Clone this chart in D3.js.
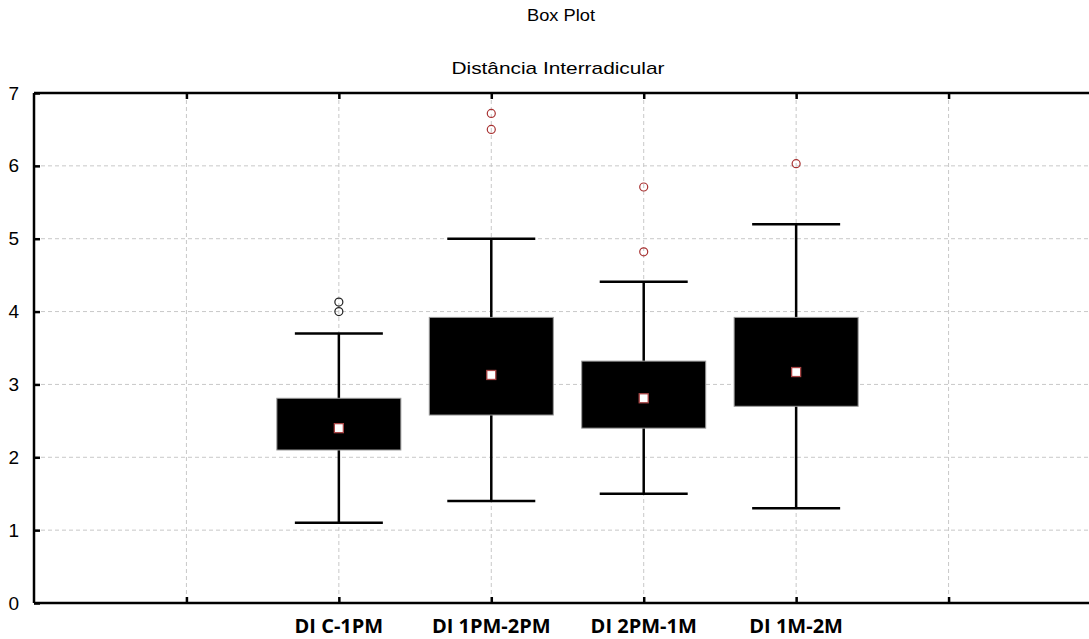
<!DOCTYPE html>
<html>
<head>
<meta charset="utf-8">
<script src="https://cdn.jsdelivr.net/npm/d3@7"></script>
<style>
  body { margin: 0; background: #fff; }
  svg { display: block; }
</style>
</head>
<body>
<div id="chart"></div>
<script>

  const categories = ["DI C-1PM", "DI 1PM-2PM", "DI 2PM-1M", "DI 1M-2M"];
  const positions = [2, 3, 4, 5];
  const medians = [2.40, 3.13, 2.81, 3.17];
  const q1 = [2.10, 2.58, 2.40, 2.70];
  const q3 = [2.81, 3.92, 3.32, 3.92];
  const whiskerLow = [1.10, 1.40, 1.50, 1.30];
  const whiskerHigh = [3.70, 5.00, 4.41, 5.20];
  const outliers = [[4.00, 4.13], [6.50, 6.72], [4.82, 5.71], [6.03]];
  const yTicks = [0, 1, 2, 3, 4, 5, 6, 7];
  const xTicks = [1, 2, 3, 4, 5, 6];

  function get_plot_spec() {
    const margin = { top: 93, left: 34, bottom: 36 };
    const width = 1067;   // runs past the window edge, as in the original
    const height = 639 - margin.top - margin.bottom;

    const x_scale = d3.scaleLinear().domain([0, 7]).range([0, width]);
    const y_scale = d3.scaleLinear().domain([0, 7]).range([height, 0]);

    return { margin: margin, width: width, height: height, x_scale: x_scale, y_scale: y_scale };
  }

  function d3_plot(target) {
    const spec = get_plot_spec();
    const margin = spec.margin;
    const width = spec.width;
    const height = spec.height;
    const x = spec.x_scale;
    const y = spec.y_scale;

    const root = d3.select("#" + target)
      .append("svg")
      .attr("width", 1089)
      .attr("height", 639);

    // titles
    root.append("text")
      .attr("x", 561).attr("y", 21)
      .attr("text-anchor", "middle")
      .attr("textLength", 68).attr("lengthAdjust", "spacingAndGlyphs")
      .style("font-family", "Liberation Sans, Arial, sans-serif")
      .style("font-size", "17px")
      .text("Box Plot");
    root.append("text")
      .attr("x", 558).attr("y", 74)
      .attr("text-anchor", "middle")
      .attr("textLength", 213).attr("lengthAdjust", "spacingAndGlyphs")
      .style("font-family", "Liberation Sans, Arial, sans-serif")
      .style("font-size", "17px")
      .text("Distância Interradicular");

    const svg = root.append("g")
      .attr("transform", `translate(${margin.left}, ${margin.top})`);

    // grid
    svg.append("g").selectAll("line")
      .data(yTicks.filter(d => d > 0 && d < 7))
      .join("line")
      .attr("x1", 0).attr("x2", width)
      .attr("y1", d => y(d)).attr("y2", d => y(d))
      .attr("stroke", "#c8c8c8").attr("stroke-dasharray", "4,3");
    svg.append("g").selectAll("line")
      .data(xTicks)
      .join("line")
      .attr("x1", d => x(d)).attr("x2", d => x(d))
      .attr("y1", 0).attr("y2", height)
      .attr("stroke", "#c8c8c8").attr("stroke-dasharray", "4,3");

    // boxes
    const boxHalf = 62;
    const capHalf = 44;
    const g = svg.append("g");
    positions.forEach(function (p, i) {
      const cx = x(p);
      g.append("line")
        .attr("x1", cx).attr("x2", cx)
        .attr("y1", y(whiskerLow[i])).attr("y2", y(whiskerHigh[i]))
        .attr("stroke", "#000").attr("stroke-width", 2.5);
      [whiskerLow[i], whiskerHigh[i]].forEach(function (w) {
        g.append("line")
          .attr("x1", cx - capHalf).attr("x2", cx + capHalf)
          .attr("y1", y(w)).attr("y2", y(w))
          .attr("stroke", "#000").attr("stroke-width", 2.5);
      });
      g.append("rect")
        .attr("x", cx - boxHalf).attr("width", boxHalf * 2)
        .attr("y", y(q3[i])).attr("height", y(q1[i]) - y(q3[i]))
        .attr("fill", "#000").attr("stroke", "#9a9a9a").attr("stroke-width", 1);
      g.append("rect")
        .attr("x", cx - 4.5).attr("y", y(medians[i]) - 4.5)
        .attr("width", 9).attr("height", 9)
        .attr("fill", "#fff").attr("stroke", "#a84545").attr("stroke-width", 1.3);
      g.selectAll(null)
        .data(outliers[i])
        .join("circle")
        .attr("cx", cx).attr("cy", d => y(d))
        .attr("r", 4)
        .attr("fill", "none")
        .attr("stroke", i === 0 ? "#222" : "#a83232")
        .attr("stroke-width", 1.2);
    });

    // axes frame
    const frame = svg.append("g").attr("stroke", "#000").attr("stroke-width", 2.5);
    frame.append("line").attr("x1", 0).attr("x2", width).attr("y1", 0).attr("y2", 0);
    frame.append("line").attr("x1", 0).attr("x2", width).attr("y1", height).attr("y2", height);
    frame.append("line").attr("x1", 0).attr("x2", 0).attr("y1", 0).attr("y2", height);

    // inward tick marks
    const yAxis = svg.append("g")
      .call(d3.axisLeft(y).tickValues(yTicks).tickSize(-6).tickPadding(15).tickFormat(d3.format("d")));
    yAxis.select(".domain").remove();
    yAxis.selectAll(".tick line").attr("stroke-width", 2.5);
    yAxis.selectAll(".tick text")
      .style("font-family", "Liberation Sans, Arial, sans-serif")
      .style("font-size", "19px")
      .attr("fill", "#000");

    const xAxisBottom = svg.append("g")
      .attr("transform", `translate(0, ${height})`)
      .call(d3.axisBottom(x).tickValues(xTicks).tickSize(-6).tickFormat(""));
    xAxisBottom.select(".domain").remove();
    xAxisBottom.selectAll(".tick line").attr("stroke-width", 2.5);

    const xAxisTop = svg.append("g")
      .call(d3.axisTop(x).tickValues(xTicks).tickSize(-6).tickFormat(""));
    xAxisTop.select(".domain").remove();
    xAxisTop.selectAll(".tick line").attr("stroke-width", 2.5);

    // category labels
    svg.append("g").selectAll("text")
      .data(categories)
      .join("text")
      .attr("x", (d, i) => x(positions[i]))
      .attr("y", height + 30)
      .attr("text-anchor", "middle")
      .style("font-family", "Open Sans, sans-serif")
      .style("font-weight", "700")
      .style("font-size", "20px")
      .text(d => d);
  }

  d3_plot("chart");
</script>
</body>
</html>
